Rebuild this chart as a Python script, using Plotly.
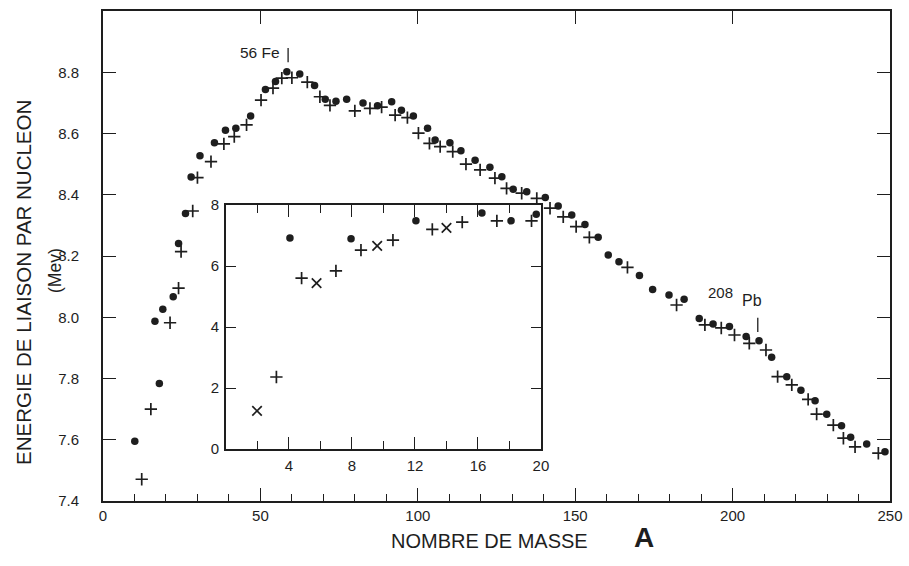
import plotly.graph_objects as go

# Binding energy per nucleon (MeV) versus mass number A
# Filled circles: even-even nuclei, crosses: other nuclei
dot_A = [10.1, 16.5, 17.9, 19.0, 22.3, 24.0, 26.2, 28.0, 30.8, 35.4, 38.9, 42.2,
         46.9, 51.6, 54.8, 58.4, 62.5, 67.2, 70.6, 74.0, 77.4, 82.6, 87.2, 91.7,
         94.8, 98.6, 103.1, 105.5, 110.2, 113.7, 118.2, 122.9, 126.7, 130.3, 134.6,
         140.5, 144.6, 148.9, 153.1, 157.3, 160.5, 163.9, 170.4, 174.6, 179.8,
         184.6, 189.4, 193.8, 199.0, 204.3, 208.4, 212.4, 217.2, 221.7, 226.2,
         229.9, 234.6, 237.5, 242.6, 248.4]
dot_B = [7.595, 7.987, 7.784, 8.026, 8.067, 8.241, 8.339, 8.458, 8.527, 8.570,
         8.611, 8.617, 8.657, 8.744, 8.770, 8.802, 8.794, 8.757, 8.712, 8.705,
         8.712, 8.700, 8.691, 8.704, 8.676, 8.657, 8.617, 8.579, 8.570, 8.544,
         8.513, 8.490, 8.459, 8.418, 8.410, 8.391, 8.363, 8.334, 8.303, 8.261,
         8.203, 8.181, 8.136, 8.091, 8.073, 8.059, 7.996, 7.978, 7.970, 7.937,
         7.923, 7.869, 7.806, 7.762, 7.727, 7.683, 7.646, 7.608, 7.586, 7.561]

cross_A = [12.3, 15.2, 21.3, 24.0, 24.8, 28.5, 30.0, 34.3, 38.4, 41.7, 45.6,
           50.2, 54.0, 56.8, 60.0, 64.9, 68.9, 72.1, 80.0, 84.8, 88.5, 92.8,
           96.7, 100.2, 103.7, 107.1, 111.1, 115.3, 119.8, 124.5, 128.2, 133.0,
           137.8, 142.0, 146.2, 150.3, 154.5, 166.6, 182.2, 191.2, 196.4, 200.6,
           205.3, 210.6, 214.3, 218.8, 224.0, 226.7, 232.0, 235.2, 238.9, 246.3]
cross_B = [7.471, 7.700, 7.982, 8.095, 8.214, 8.347, 8.456, 8.508, 8.566, 8.590,
           8.628, 8.709, 8.748, 8.781, 8.782, 8.768, 8.720, 8.692, 8.674, 8.682,
           8.686, 8.660, 8.652, 8.601, 8.568, 8.557, 8.541, 8.500, 8.481, 8.454,
           8.421, 8.405, 8.388, 8.356, 8.328, 8.296, 8.261, 8.163, 8.040, 7.975,
           7.965, 7.942, 7.915, 7.893, 7.806, 7.779, 7.732, 7.684, 7.648, 7.605,
           7.577, 7.556]

# Light nuclei (inset, A from 0 to 20)
inset_dot_A = [4.06, 7.94, 12.06, 16.25, 18.1, 19.7]
inset_dot_B = [6.92, 6.89, 7.48, 7.74, 7.48, 7.70]
inset_plus_A = [3.2, 4.8, 6.98, 8.57, 10.6, 13.1, 15.0, 17.2, 19.4]
inset_plus_B = [2.36, 5.60, 5.84, 6.52, 6.85, 7.20, 7.44, 7.48, 7.48]
inset_x_A = [1.97, 5.75, 9.6, 14.0]
inset_x_B = [1.25, 5.44, 6.66, 7.25]

main_y_ticks = [7.4, 7.6, 7.8, 8.0, 8.2, 8.4, 8.6, 8.8]
main_x_ticks = [0, 50, 100, 150, 200, 250]
inset_x_ticks = [4, 8, 12, 16, 20]
inset_y_ticks = [0, 2, 4, 6, 8]

# Reference nuclei markers: (A, lower B, upper B)
fe_mark = (58.8, 8.833, 8.879)
pb_mark = (208.0, 7.952, 7.998)

INK = "#1e1e1e"
FONT = "Liberation Sans, Arial, Helvetica, sans-serif"

# Plot area in pixels, used to place the free text around it
L, R, T, B = 103, 19, 11, 65
W, H = 909, 566
PW, PH = W - L - R, H - T - B


def px_x(p):
    return (p - L) / PW


def px_y(p):
    return (H - B - p) / PH


fig = go.Figure()

fig.add_trace(go.Scatter(x=dot_A, y=dot_B, mode="markers", xaxis="x", yaxis="y",
                         marker=dict(symbol="circle", size=7.5, color=INK),
                         cliponaxis=False, showlegend=False))
fig.add_trace(go.Scatter(x=cross_A, y=cross_B, mode="markers", xaxis="x", yaxis="y",
                         marker=dict(symbol="cross-thin", size=8.8,
                                     line=dict(color=INK, width=1.7)),
                         cliponaxis=False, showlegend=False))

fig.add_trace(go.Scatter(x=inset_dot_A, y=inset_dot_B, mode="markers",
                         xaxis="x2", yaxis="y2",
                         marker=dict(symbol="circle", size=7.5, color=INK),
                         cliponaxis=False, showlegend=False))
fig.add_trace(go.Scatter(x=inset_plus_A, y=inset_plus_B, mode="markers",
                         xaxis="x2", yaxis="y2",
                         marker=dict(symbol="cross-thin", size=8.8,
                                     line=dict(color=INK, width=1.7)),
                         cliponaxis=False, showlegend=False))
fig.add_trace(go.Scatter(x=inset_x_A, y=inset_x_B, mode="markers",
                         xaxis="x2", yaxis="y2",
                         marker=dict(symbol="x-thin", size=9.5,
                                     line=dict(color=INK, width=1.7)),
                         cliponaxis=False, showlegend=False))

# Empty trace carrying the top axis with major ticks only
fig.add_trace(go.Scatter(x=[], y=[], xaxis="x3", yaxis="y", showlegend=False,
                         hoverinfo="skip"))

# Small vertical markers for 56Fe and 208Pb
for (a, b0, b1) in (fe_mark, pb_mark):
    fig.add_shape(type="line", xref="x", yref="y", x0=a, x1=a, y0=b0, y1=b1,
                  line=dict(color=INK, width=1.3))

axis_common = dict(showgrid=False, zeroline=False, linecolor=INK, tickcolor=INK,
                   ticks="inside", showline=True)

fig.update_layout(
    width=W, height=H,
    margin=dict(l=L, r=R, t=T, b=B, autoexpand=False),
    paper_bgcolor="white", plot_bgcolor="white",
    font=dict(family=FONT, color=INK, size=15),
    xaxis=dict(**axis_common, range=[0, 250], domain=[0, 1], anchor="y",
               linewidth=1.8, mirror=True,
               tickvals=main_x_ticks, ticklen=13, tickwidth=1.4,
               minor=dict(dtick=10, ticklen=7, tickwidth=1.2, tickcolor=INK,
                          ticks="inside"),
               tickfont=dict(size=15), ticklabelstandoff=0),
    xaxis3=dict(range=[0, 250], overlaying="x", side="top", anchor="y",
                showgrid=False, zeroline=False, showline=False,
                ticks="inside", tickvals=[50, 100, 150, 200], ticklen=13,
                tickwidth=1.4, tickcolor=INK, showticklabels=False),
    yaxis=dict(**axis_common, range=[7.4, 9.0], domain=[0, 1], anchor="x",
               linewidth=1.8, mirror="ticks",
               tickvals=main_y_ticks, tickformat=".1f", ticklen=13, tickwidth=1.4,
               tickfont=dict(size=15), ticklabelstandoff=19),
    xaxis2=dict(**axis_common, range=[0, 20], domain=[0.1563, 0.5565], anchor="y2",
                linewidth=1.6, mirror="ticks",
                tickvals=inset_x_ticks, ticklen=12, tickwidth=1.4,
                minor=dict(dtick=2, ticklen=8, tickwidth=1.2, tickcolor=INK,
                           ticks="inside"),
                tickfont=dict(size=15), ticklabelstandoff=2),
    yaxis2=dict(**axis_common, range=[0, 8], domain=[0.1061, 0.6041], anchor="x2",
                linewidth=1.6, mirror="ticks",
                tickvals=inset_y_ticks, ticklen=10, tickwidth=1.4,
                tickfont=dict(size=15), ticklabelstandoff=2),
    annotations=[
        dict(text="ENERGIE DE LIAISON PAR NUCLEON", textangle=-90,
             xref="paper", yref="paper", x=px_x(23), y=px_y(283),
             xanchor="center", yanchor="middle",
             showarrow=False, font=dict(size=20.5)),
        dict(text="(Mev)", textangle=-90,
             xref="paper", yref="paper", x=px_x(55), y=px_y(271),
             xanchor="center", yanchor="middle",
             showarrow=False, font=dict(size=17.5)),
        dict(text="NOMBRE DE MASSE", xref="paper", yref="paper",
             x=px_x(489), y=px_y(541), xanchor="center", yanchor="middle",
             showarrow=False, font=dict(size=20)),
        dict(text="<b>A</b>", xref="paper", yref="paper",
             x=px_x(644), y=px_y(537), xanchor="center", yanchor="middle",
             showarrow=False, font=dict(size=28)),
        dict(text="56 Fe", xref="x", yref="y", x=56.9, y=8.866,
             xanchor="right", yanchor="middle", showarrow=False,
             font=dict(size=15.5)),
        dict(text="208", xref="x", yref="y", x=196.3, y=8.082,
             xanchor="center", yanchor="middle", showarrow=False,
             font=dict(size=15)),
        dict(text="Pb", xref="x", yref="y", x=206.2, y=8.056,
             xanchor="center", yanchor="middle", showarrow=False,
             font=dict(size=16)),
    ],
)

fig.write_html("out.html")
